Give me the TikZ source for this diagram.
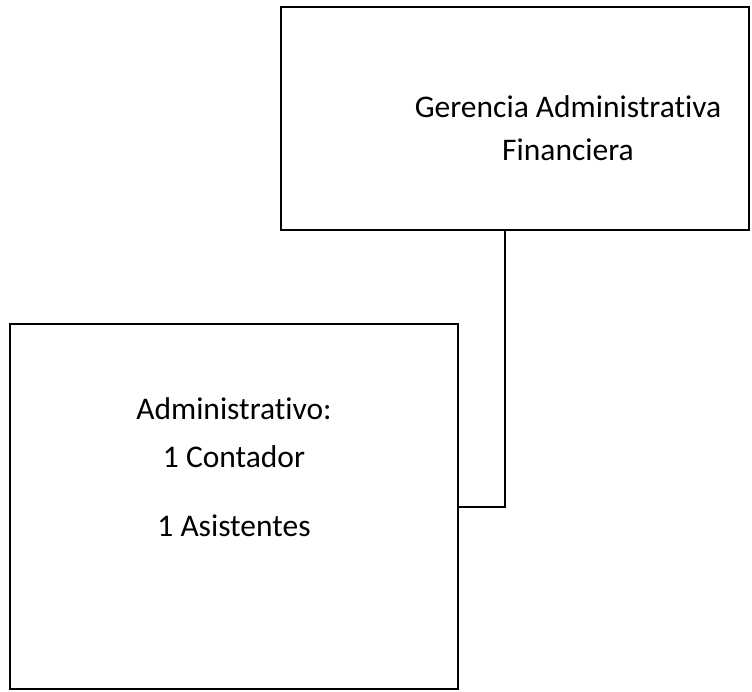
\documentclass[tikz,border=0pt]{standalone}
\usepackage{fontspec}
\setmainfont{Carlito}[Ligatures={NoCommon}]
\begin{document}
\begin{tikzpicture}[x=1pt,y=-1pt,
  box/.style={draw=black,line width=2pt,rectangle,inner sep=0pt},
  lbl/.style={anchor=base,inner sep=0pt,font=\fontsize{31.5}{38}\selectfont},
  conn/.style={draw=black,line width=2pt}]
\useasboundingbox (0,0) rectangle (752,691);
\node[box,minimum width=468pt,minimum height=223pt] (ger) at (515,118.5) {};
\node[box,minimum width=448pt,minimum height=365pt] (adm) at (234,506.5) {};
\node[lbl] (t1) at (568,117) {Gerencia Administrativa};
\node[lbl] (t2) at (568,160) {Financiera};
\node[lbl] (b1) at (234,419) {Administrativo:};
\node[lbl] (b2) at (234,467) {1 Contador};
\node[lbl] (b3) at (234,536) {1 Asistentes};
\coordinate (j) at (505,507);
\draw[conn] (ger.south -| j) -- (j) -- (adm.east |- j);
\end{tikzpicture}
\end{document}
